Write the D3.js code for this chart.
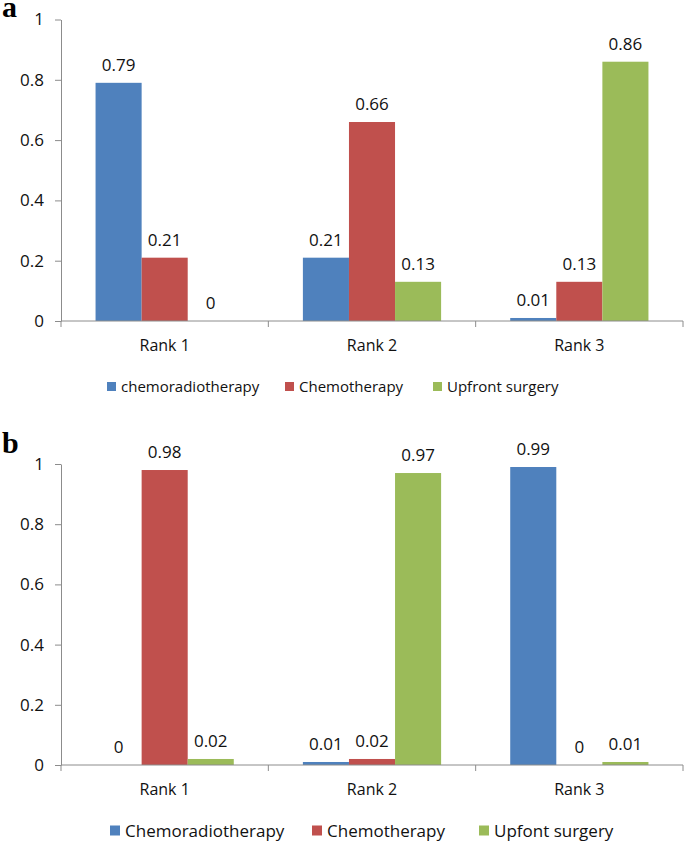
<!DOCTYPE html>
<html>
<head>
<meta charset="utf-8">
<script src="https://cdn.jsdelivr.net/npm/d3@7"></script>
<style>
  body { margin: 0; background: #fff; }
  text { font-family: "Open Sans", sans-serif; }
</style>
</head>
<body>
<div id="chart"></div>
<script>
// categories and values
const ranks = ["Rank 1", "Rank 2", "Rank 3"];
const yTicks = [0, 0.2, 0.4, 0.6, 0.8, 1];

const seriesA = ["chemoradiotherapy", "Chemotherapy", "Upfront surgery"];
const chemoradA = [0.79, 0.21, 0.01];
const chemoA = [0.21, 0.66, 0.13];
const surgeryA = [0, 0.13, 0.86];

const seriesB = ["Chemoradiotherapy", "Chemotherapy", "Upfont surgery"];
const chemoradB = [0, 0.01, 0.99];
const chemoB = [0.98, 0.02, 0];
const surgeryB = [0.02, 0.97, 0.01];

const colors = ["#4f81bd", "#c0504d", "#9bbb59"];
const axisColor = "#8c8c8c";
const textColor = "#111";

const W = 685, H = 843;
const svg = d3.select("#chart").append("svg")
    .attr("width", W)
    .attr("height", H);

function drawPanel(p) {
    const g = svg.append("g");
    const top = p.top, bottom = p.bottom;
    const x0 = d3.scaleBand().domain(ranks).range([61, 683]);
    const x1 = d3.scaleBand().domain(d3.range(p.names.length))
        .range([0, x0.bandwidth()]).paddingOuter(0.75);
    const y = d3.scaleLinear().domain([0, 1]).range([bottom, top]);

    // panel letter
    g.append("text")
        .attr("x", 2).attr("y", p.letterY)
        .style("font-family", "'Liberation Serif', 'DejaVu Serif', serif")
        .style("font-weight", "bold")
        .style("font-size", "30px")
        .attr("fill", "#000")
        .text(p.letter);

    // bars
    const rows = ranks.map((r, i) => ({ rank: r, vals: p.values.map(v => v[i]) }));
    const grp = g.selectAll(".grp").data(rows).enter().append("g")
        .attr("transform", d => `translate(${x0(d.rank)},0)`);
    grp.selectAll("rect").data(d => d.vals).enter().append("rect")
        .attr("x", (d, i) => x1(i))
        .attr("width", x1.bandwidth())
        .attr("y", d => y(d))
        .attr("height", d => y(0) - y(d))
        .attr("fill", (d, i) => colors[i]);
    grp.selectAll(".val").data(d => d.vals).enter().append("text")
        .attr("x", (d, i) => x1(i) + x1.bandwidth() / 2)
        .attr("y", d => y(d) - 12)
        .attr("text-anchor", "middle")
        .style("font-size", "17px")
        .attr("fill", textColor)
        .text(d => d);

    // y axis
    const yAxis = d3.axisLeft(y).tickValues(yTicks).tickSize(6).tickSizeOuter(0)
        .tickFormat(d => d3.format("")(d));
    const ya = g.append("g").attr("transform", "translate(61,0)").call(yAxis);
    ya.select(".domain").attr("stroke", axisColor);
    ya.selectAll(".tick line").attr("stroke", axisColor);
    ya.selectAll(".tick text").attr("x", -17).style("font-size", "17px")
        .style("font-family", "'Open Sans', sans-serif").attr("fill", textColor);

    // x axis
    const xa = g.append("g").attr("transform", `translate(0,${bottom})`)
        .call(d3.axisBottom(x0).tickSize(0).tickSizeOuter(0));
    xa.select(".domain").attr("stroke", axisColor).attr("d", "M61,0H683");
    xa.selectAll(".tick text").attr("y", 19).style("font-size", "16px")
        .style("font-family", "'Open Sans', sans-serif").attr("fill", textColor);
    // category separators
    g.selectAll(".sep").data(d3.range(ranks.length + 1)).enter().append("line")
        .attr("x1", i => 61 + i * x0.bandwidth())
        .attr("x2", i => 61 + i * x0.bandwidth())
        .attr("y1", bottom).attr("y2", bottom + 6)
        .attr("stroke", axisColor);

    // legend
    const ly = bottom + 66;
    const m = p.marker;
    const leg = g.selectAll(".leg").data(p.names).enter().append("g")
        .attr("transform", (d, i) => `translate(${p.legendX[i]},${ly})`);
    leg.append("rect").attr("x", 0).attr("y", -m / 2 - 0.5).attr("width", m).attr("height", m)
        .attr("fill", (d, i) => colors[i]);
    leg.append("text").attr("x", m + 5).attr("y", p.legendSize * 0.36)
        .style("font-size", p.legendSize + "px").attr("fill", textColor)
        .text(d => d);
}

drawPanel({
    letter: "a", letterY: 17, top: 19.5, bottom: 321,
    names: seriesA, values: [chemoradA, chemoA, surgeryA],
    legendX: [107, 285, 433], legendSize: 15, marker: 9
});
drawPanel({
    letter: "b", letterY: 453, top: 464, bottom: 765,
    names: seriesB, values: [chemoradB, chemoB, surgeryB],
    legendX: [110, 312, 479], legendSize: 17, marker: 10
});
</script>
</body>
</html>
